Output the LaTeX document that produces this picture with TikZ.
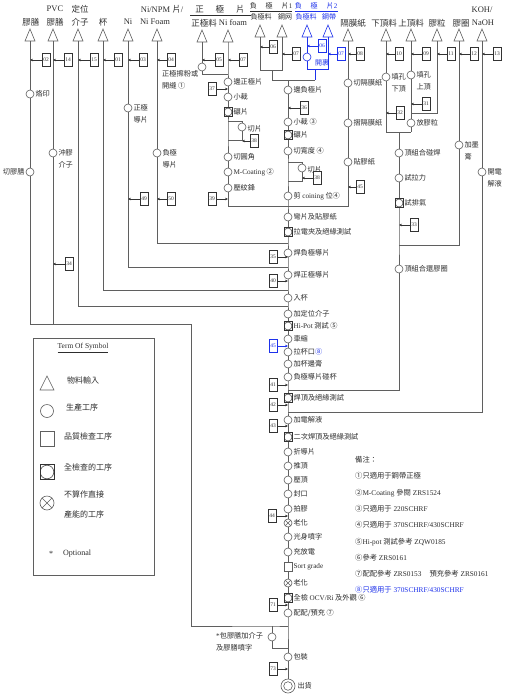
\documentclass[tikz,border=0pt]{standalone}
\usepackage{fontspec}
\setmainfont{Liberation Serif}
\newfontfamily\zhfont{Noto Sans CJK TC}
\newcommand\zh[1]{{\zhfont #1}}
\newcommand\latn[1]{{\rmfamily #1}}
\usetikzlibrary{arrows.meta,calc}
\definecolor{ln}{RGB}{95,95,95}
\definecolor{tx}{RGB}{45,45,45}
\definecolor{bl}{RGB}{30,50,235}
\tikzset{
  every node/.style={text=tx},
  flow/.style={draw=ln, line width=0.6pt},
  proc/.style={circle, draw=ln, line width=0.6pt, fill=white, minimum size=8pt, inner sep=0pt},
  qc/.style={rectangle, draw=ln, line width=0.6pt, fill=white, minimum width=8pt, minimum height=9pt, inner sep=0pt},
  fqc/.style={qc, draw=black!80, line width=0.8pt, path picture={\draw[ln, line width=0.7pt] (path picture bounding box.center) circle[radius=4pt];}},
  xproc/.style={proc, path picture={\draw[ln,line width=0.5pt] (path picture bounding box.north west) -- (path picture bounding box.south east) (path picture bounding box.north east) -- (path picture bounding box.south west);}},
  ship/.style={proc, minimum size=14pt, path picture={\draw[ln,line width=0.6pt] (path picture bounding box.center) circle[radius=4.3pt];}},
  code/.style={rectangle, line width=0.5pt, fill=white, minimum width=8pt, minimum height=13pt, inner sep=0.3pt, font=\fontsize{5.5}{5.5}\selectfont},
  arr/.style={-{Stealth[length=3pt,width=2.6pt]}, line width=0.5pt},
  lab/.style={anchor=west, inner sep=1pt, font=\zhfont\fontsize{7.2}{8}\selectfont},
  labl/.style={lab, anchor=east},
  lab2/.style={lab, align=left, font=\zhfont\fontsize{7.2}{12}\selectfont},
  hdr/.style={inner sep=0pt, font=\zhfont\fontsize{8.5}{9}\selectfont},
  hdrs/.style={inner sep=0pt, font=\zhfont\fontsize{7}{8}\selectfont},
  note/.style={anchor=west, inner sep=0pt, font=\rmfamily\fontsize{7.3}{8}\selectfont},
  legt/.style={anchor=west, inner sep=0pt, font=\zhfont\fontsize{8}{9}\selectfont},
}
% triangle input symbol: [colour]{name}{x}{top y}
\newcommand\tri[4][ln]{%
  \draw[draw=#1, line width=0.6pt, fill=white] (#3-5,#4+12) -- (#3,#4) -- (#3+5,#4+12) -- cycle;
  \coordinate (#2) at (#3,#4+12);}
% code box with arrow to the left / right: [colour]{name}{x}{y}{text}{target}
\newcommand\cbl[6][black!80]{%
  \node[code,draw=#1,text=#1] (#2) at (#3,#4) {#5};
  \draw[arr,draw=#1] (#2.west) -- (#2.west -| #6);}
\newcommand\cbr[6][black!80]{%
  \node[code,draw=#1,text=#1] (#2) at (#3,#4) {#5};
  \draw[arr,draw=#1] (#2.east) -- (#2.east -| #6);}

\begin{document}
\begin{tikzpicture}[x=1pt,y=-1pt]
\useasboundingbox (0,0) rectangle (512,697);
\fill[white] (0,0) rectangle (512,697);

% ---------------- headers ----------------
\node[hdr] at (31,22) {膠膳};
\node[hdr] at (55,9) {\latn{PVC}};
\node[hdr] at (55,22) {膠膳};
\node[hdr] at (80,9) {定位};
\node[hdr] at (80,22) {介子};
\node[hdr] at (103,22) {杯};
\node[hdr] at (128,22) {\latn{Ni}};
\node[hdr] at (162,9) {\latn{Ni/NPM }片\latn{/}};
\node[hdr] at (155,22) {\latn{Ni Foam}};
\node[hdr] (hzp) at (220,9) {正\hspace{12pt}極\hspace{12pt}片};
\draw[tx,line width=0.5pt] (190,15.5) -- (251,15.5);
\node[hdr] at (204,23) {正極料};
\node[hdr] at (233,23) {\latn{Ni foam}};
\node[hdrs] at (271,5.5) {負\hspace{9pt}極\hspace{9pt}片\latn{1}};
\draw[tx,line width=0.5pt] (250,11) -- (292,11);
\node[hdrs] at (261,17) {負極料};
\node[hdrs] at (285,17) {鋼网};
\node[hdrs,text=bl] at (316,5.5) {負\hspace{9pt}極\hspace{9pt}片\latn{2}};
\draw[bl,line width=0.5pt] (295,11) -- (338,11);
\node[hdrs,text=bl] at (306,17) {負極料};
\node[hdrs,text=bl] at (329,17) {鋼帶};
\node[hdr] at (353,23) {隔膜紙};
\node[hdr] at (384,23) {下頂料};
\node[hdr] at (411,23) {上頂料};
\node[hdr] at (437,23) {膠粒};
\node[hdr] at (461,23) {膠圈};
\node[hdr] at (482,10) {\latn{KOH/}};
\node[hdr] at (483,23) {\latn{NaOH}};

% ---------------- input triangles ----------------
\tri{t1}{30}{29}\tri{t2}{53}{29}\tri{t3}{78}{29}\tri{t4}{103}{29}
\tri{t5}{128}{29}\tri{t6}{157}{29}\tri{t7}{202}{30}\tri{t8}{228}{30}
\tri{ta}{260}{25}\tri{tb}{282}{25}\tri[bl]{tc}{307}{25}\tri[bl]{td}{328}{25}
\tri{te}{348}{29}\tri{tf}{386}{29}\tri{tg}{411}{29}\tri{th}{437}{29}
\tri{ti}{459}{29}\tri{tj}{482}{29}

% ---------------- main line nodes ----------------
\coordinate (m0) at (288,80);
\node[proc] (n1) at (288,90) {};
\node[proc] (n2) at (288,122) {};
\node[fqc]  (n3) at (288,135) {};
\node[proc] (n4) at (288,151) {};
\coordinate (j4a) at (288,162); \coordinate (j4c) at (302,162);
\node[proc] (n4c) at (302,168) {};
\coordinate (j4d) at (302,181); \coordinate (j4b) at (288,181);
\node[proc] (n5) at (288,196) {};
\coordinate (j5) at (288,206);
\node[proc] (n6) at (288,217) {};
\node[fqc]  (n7) at (288,232) {};
\coordinate (j7) at (288,243);
\node[proc] (n8) at (288,253) {};
\coordinate (j8) at (288,267);
\node[proc] (n9) at (288,275) {};
\coordinate (j9) at (288,290);
\node[proc] (n10) at (288,298) {};
\coordinate (j10) at (288,306);
\node[proc] (n11) at (288,314) {};
\node[fqc]  (n12) at (288,326) {};
\node[proc] (n13) at (288,339) {};
\node[proc] (n14) at (288,352) {};
\node[proc] (n15) at (288,364) {};
\node[proc] (n16) at (288,377) {};
\coordinate (j16) at (288,390);
\node[fqc]  (n17) at (288,398) {};
\coordinate (j17) at (288,412);
\node[proc] (n18) at (288,420) {};
\node[fqc]  (n19) at (288,437) {};
\node[proc] (n20) at (288,452) {};
\node[proc] (n21) at (288,466) {};
\node[proc] (n22) at (288,480) {};
\node[proc] (n23) at (288,494) {};
\node[proc] (n24) at (288,509) {};
\node[xproc] (n25) at (288,523) {};
\node[proc] (n26) at (288,537) {};
\node[proc] (n27) at (288,552) {};
\node[qc]   (n28) at (288,567) {};
\node[xproc] (n29) at (288,583) {};
\node[fqc]  (n30) at (288,598) {};
\node[proc] (n31) at (288,613) {};
\coordinate (j31) at (288,626);
\coordinate (o0) at (272,626);
\node[proc] (o1) at (272,637) {};
\coordinate (o2) at (272,648);
\coordinate (j31b) at (288,648);
\node[proc] (n32) at (288,657) {};
\node[ship] (n33) at (288,686) {};

\draw[flow] (m0) -- (n1) -- (n2) -- (n3) -- (n4) -- (j4a) -- (j4b) -- (n5) -- (j5) -- (n6) -- (n7)
  -- (j7) -- (n8) -- (j8) -- (n9) -- (j9) -- (n10) -- (j10) -- (n11) -- (n12) -- (n13) -- (n14)
  -- (n15) -- (n16) -- (j16) -- (n17) -- (j17) -- (n18) -- (n19) -- (n20) -- (n21) -- (n22)
  -- (n23) -- (n24) -- (n25) -- (n26) -- (n27) -- (n28) -- (n29) -- (n30) -- (n31) -- (j31)
  -- (n32) -- (n33);
\draw[flow] (j4a) -- (j4c) -- (n4c) -- (j4d) -- (j4b);
\draw[flow] (o0) -- (o1) -- (o2) -- (j31b);

\node[lab] at (n1.east) {邊負極片};
\node[lab] at (n2.east) {小裁 ③};
\node[lab] at (n3.east) {碾片};
\node[lab] at (n4.east) {切寬度 ④};
\node[lab] at ([yshift=-2pt]n4c.east) {切片};
\node[lab] at (n5.east) {剪 \latn{coining} 位④};
\node[lab] at (n6.east) {彎片及貼膠紙};
\node[lab] at (n7.east) {拉電夾及絕緣測試};
\node[lab] at (n8.east) {焊負極導片};
\node[lab] at (n9.east) {焊正極導片};
\node[lab] at (n10.east) {入杯};
\node[lab] at (n11.east) {加定位介子};
\node[lab] at (n12.east) {\latn{Hi-Pot} 測試 ⑤};
\node[lab] at (n13.east) {車縮};
\node[lab] at (n14.east) {拉杯口\textcolor{bl}{⑧}};
\node[lab] at (n15.east) {加杯邊膏};
\node[lab] at (n16.east) {負極導片碰杯};
\node[lab] at (n17.east) {焊頂及絕緣測試};
\node[lab] at (n18.east) {加電解液};
\node[lab] at (n19.east) {二次焊頂及絕緣測試};
\node[lab] at (n20.east) {折導片};
\node[lab] at (n21.east) {推頂};
\node[lab] at (n22.east) {壓頂};
\node[lab] at (n23.east) {封口};
\node[lab] at (n24.east) {拍膠};
\node[lab] at (n25.east) {老化};
\node[lab] at (n26.east) {光身噴字};
\node[lab] at (n27.east) {充放電};
\node[lab] at (n28.east) {\latn{Sort grade}};
\node[lab] at (n29.east) {老化};
\node[lab] at (n30.east) {全檢 \latn{OCV/Ri} 及外觀 ⑥};
\node[lab] at (n31.east) {配配/預充 ⑦};
\node[lab2, anchor=north west] at (215,631) {\latn{*}包膠膳加介子\\及膠膳噴字};
\node[lab] at (n32.east) {包裝};
\node[lab, xshift=1pt] at (n33.east) {出貨};

% ---------------- left feeder lines ----------------
\node[proc] (a1) at (30,94) {};
\node[proc] (a2) at (30,172) {};
\node[proc] (b1) at (53,153) {};
\node[proc] (e1) at (128,108) {};
\node[proc] (f1) at (157,153) {};
\coordinate (c1) at (30,324); \coordinate (c2) at (53,324);
\coordinate (c3) at (191,324); \coordinate (c4) at (191,626);
\coordinate (c5) at (78,306); \coordinate (c6) at (103,290);
\coordinate (c7) at (128,267); \coordinate (c8) at (157,243);
\draw[flow] (t1) -- (a1) -- (a2) -- (c1) -- (c3) -- (c4) -- (o0) -- (j31);
\draw[flow] (t2) -- (b1) -- (c2);
\draw[flow] (t3) -- (c5) -- (j10);
\draw[flow] (t4) -- (c6) -- (j9);
\draw[flow] (t5) -- (e1) -- (c7) -- (j8);
\draw[flow] (t6) -- (f1) -- (c8) -- (j7);
\node[lab] at (a1.east) {烙印};
\node[labl] at (a2.west) {切膠膳};
\node[lab2, yshift=-6pt] at (b1.east) {沖膠\\介子};
\node[lab2, yshift=-6pt] at (e1.east) {正極\\導片};
\node[lab2, yshift=-6pt] at (f1.east) {負極\\導片};

% positive plate group
\node[proc] (g1) at (202,67) {};
\coordinate (g2) at (202,74); \coordinate (h0) at (228,74);
\node[proc] (h1) at (228,82) {};
\node[proc] (h2) at (228,97) {};
\node[fqc]  (h3) at (228,112) {};
\coordinate (h3a) at (228,121); \coordinate (h3b) at (242,121);
\node[proc] (h4) at (242,127) {};
\coordinate (h4b) at (242,140); \coordinate (h4a) at (228,140);
\node[proc] (h5) at (228,157) {};
\node[proc] (h6) at (228,172) {};
\node[proc] (h7) at (228,188) {};
\coordinate (h8) at (228,206);
\draw[flow] (t7) -- (g1) -- (g2) -- (h0);
\draw[flow] (t8) -- (h0) -- (h1) -- (h2) -- (h3) -- (h3a) -- (h4a) -- (h5) -- (h6) -- (h7) -- (h8) -- (j5);
\draw[flow] (h3a) -- (h3b) -- (h4) -- (h4b) -- (h4a);
\node[lab2, anchor=north west] at (161,69.5) {正極擦粉或\\開縫 ①};
\node[lab] at (h1.east) {邊正極片};
\node[lab] at (h2.east) {小裁};
\node[lab] at (h3.east) {碾片};
\node[lab] at ([yshift=-2pt]h4.east) {切片};
\node[lab] at (h5.east) {切圓角};
\node[lab] at (h6.east) {\latn{M-Coating} ②};
\node[lab] at (h7.east) {壓紋鋒};

% negative plate groups
\coordinate (ka) at (260,70); \coordinate (kb) at (282,70);
\coordinate (kab) at (272,70); \coordinate (kab2) at (272,80);
\node[proc, draw=bl] (kc1) at (307,57) {};
\coordinate (kc) at (307,69); \coordinate (kd) at (328,69);
\coordinate (kcd) at (315,69); \coordinate (kcd2) at (315,80);
\draw[flow] (ta) -- (ka) -- (kb) -- (tb);
\draw[flow] (kab) -- (kab2) -- (kcd2);
\draw[flow, draw=bl] (tc) -- (kc1) -- (kc) -- (kd) -- (td);
\draw[flow, draw=bl] (kcd) -- (kcd2);
\node[hdrs, text=bl] at (322,62.5) {開裹};

% separator line
\node[proc] (p1) at (348,83) {};
\node[proc] (p2) at (348,123) {};
\node[proc] (p3) at (348,162) {};
\coordinate (p4) at (348,206);
\draw[flow] (te) -- (p1) -- (p2) -- (p3) -- (p4) -- (j5);
\node[lab] at (p1.east) {切隔膜紙};
\node[lab] at (p2.east) {摺隔膜紙};
\node[lab] at (p3.east) {貼膠紙};

% top cap group
\node[proc] (q1) at (386,77) {};
\coordinate (q1b) at (386,132);
\node[proc] (r1) at (411,75) {};
\node[proc] (r2) at (411,123) {};
\coordinate (r2b) at (411,132);
\coordinate (s1) at (437,113); \coordinate (s2) at (411,113);
\coordinate (u0) at (399,132);
\node[proc] (u1) at (399,153) {};
\node[proc] (u2) at (399,178) {};
\node[fqc]  (u3) at (399,203) {};
\coordinate (u4) at (399,245);
\node[proc] (u5) at (399,269) {};
\coordinate (u6) at (399,390);
\node[proc] (v1) at (459,145) {};
\coordinate (v2) at (459,245);
\node[proc] (w1) at (482,172) {};
\coordinate (w2) at (482,412);
\draw[flow] (tf) -- (q1) -- (q1b) -- (r2b);
\draw[flow] (tg) -- (r1) -- (r2) -- (r2b);
\draw[flow] (th) -- (s1) -- (s2);
\draw[flow] (u0) -- (u1) -- (u2) -- (u3) -- (u4) -- (u5) -- (u6) -- (j16);
\draw[flow] (ti) -- (v1) -- (v2) -- (u4);
\draw[flow] (tj) -- (w1) -- (w2) -- (j17);
\node[lab2, yshift=-6pt] at (q1.east) {填孔\\下頂};
\node[lab2, yshift=-6pt] at (r1.east) {填孔\\上頂};
\node[lab] at (r2.east) {放膠粒};
\node[lab] at (u1.east) {頂組合碰焊};
\node[lab] at (u2.east) {試拉力};
\node[lab] at (u3.east) {試排氣};
\node[lab] at (u5.east) {頂組合還膠圈};
\node[lab2, yshift=-6pt] at (v1.east) {加墨\\膏};
\node[lab2, yshift=-6pt] at (w1.east) {開電\\解液};

% ---------------- code boxes ----------------
\cbl{b02}{46}{60}{02}{t1}
\cbl{b14}{68}{60}{14}{t2}
\cbl{b15}{94}{60}{15}{t3}
\cbl{b01}{118}{60}{01}{t4}
\cbl{b03}{143}{60}{03}{t5}
\cbl{b04}{171}{60}{04}{t6}
\cbl{b05}{219}{60}{05}{t7}
\cbl{b07a}{243}{60}{07}{t8}
\cbl{b06}{273}{47}{06}{ta}
\cbl{b07b}{296}{54}{07}{tb}
\cbl[bl]{b06b}{322}{46}{06}{tc}
\cbl[bl]{b07c}{341}{54}{07}{td}
\cbl{b08}{360}{54}{08}{te}
\cbl{b10}{399}{54}{10}{tf}
\cbl{b09}{426}{54}{09}{tg}
\cbl{b11}{451}{54}{11}{th}
\cbl{b12}{474}{54}{12}{ti}
\cbl{b13}{497}{54}{13}{tj}
\cbl{b34}{69}{264}{34}{t2}
\cbl{b49}{144}{199}{49}{t5}
\cbl{b50}{171}{199}{50}{t6}
\cbl{b38a}{254}{141}{38}{h4}
\cbl{b36}{304}{108}{36}{m0}
\cbl{b38b}{317}{178}{38}{n4c}
\cbl{b45}{360}{187}{45}{te}
\cbl{b32}{400}{113}{32}{tf}
\cbl{b31}{426}{104}{31}{tg}
\cbl{b33}{414}{225}{33}{u0}
\cbr{b37}{212}{89}{37}{t8}
\cbr{b39}{212}{199}{39}{t8}
\cbr{b35}{273}{257}{35}{m0}
\cbr{b40}{273}{281}{40}{m0}
\cbr[bl]{b45b}{273}{346}{45}{m0}
\cbr{b41}{273}{385}{41}{m0}
\cbr{b42}{273}{405}{42}{m0}
\cbr{b43}{273}{426}{43}{m0}
\cbr{b44}{272}{516}{44}{m0}
\cbr{b71}{273}{605}{71}{m0}
\cbr{b73}{273}{669}{73}{m0}

% ---------------- legend ----------------
\draw[ln, line width=0.7pt] (33,338) rectangle (154,575);
\node[inner sep=0pt, font=\fontsize{7.5}{8}\selectfont] at (83,348) {\underline{Term Of Symbol}};
\draw[ln, line width=0.6pt, fill=white] (40,390) -- (47,376) -- (54,390) -- cycle;
\node[proc, minimum size=13pt] (lg2) at (47,411) {};
\node[qc, minimum width=14pt, minimum height=15pt] (lg3) at (47,439) {};
\node[qc, draw=black!80, line width=0.8pt, minimum width=14pt, minimum height=15pt,
  path picture={\draw[ln,line width=0.7pt] (path picture bounding box.center) circle[radius=6.8pt];}] (lg4) at (47,472) {};
\node[xproc, minimum size=14pt] (lg5) at (47,503) {};
\node[legt] at (67,380) {物料輸入};
\node[legt] at (66,407) {生產工序};
\node[legt] at (64,436) {品質檢查工序};
\node[legt] at (64,467) {全檢查的工序};
\node[legt] at (64,494) {不算作直接};
\node[legt] at (64,514) {產能的工序};
\node[inner sep=0pt, font=\fontsize{8}{9}\selectfont] at (51,554) {*};
\node[anchor=west, inner sep=0pt, font=\fontsize{8}{9}\selectfont] at (63,554) {Optional};

% ---------------- notes ----------------
\node[note] at (355,460) {\zh{備注：}};
\node[note] at (355,476) {\zh{①只適用于鋼帶正極}};
\node[note] at (355,493) {\zh{②}M-Coating \zh{參閱} ZRS1524};
\node[note] at (355,509) {\zh{③只適用于} 220SCHRF};
\node[note] at (355,525) {\zh{④只適用于} 370SCHRF/430SCHRF};
\node[note] at (355,542) {\zh{⑤}Hi-pot \zh{測試參考} ZQW0185};
\node[note] at (355,558) {\zh{⑥參考} ZRS0161};
\node[note] at (355,574) {\zh{⑦配配參考} ZRS0153\hspace{8pt}\zh{預充參考} ZRS0161};
\node[note, text=bl] at (355,590) {\zh{⑧只適用于} 370SCHRF/430SCHRF};
\end{tikzpicture}
\end{document}
